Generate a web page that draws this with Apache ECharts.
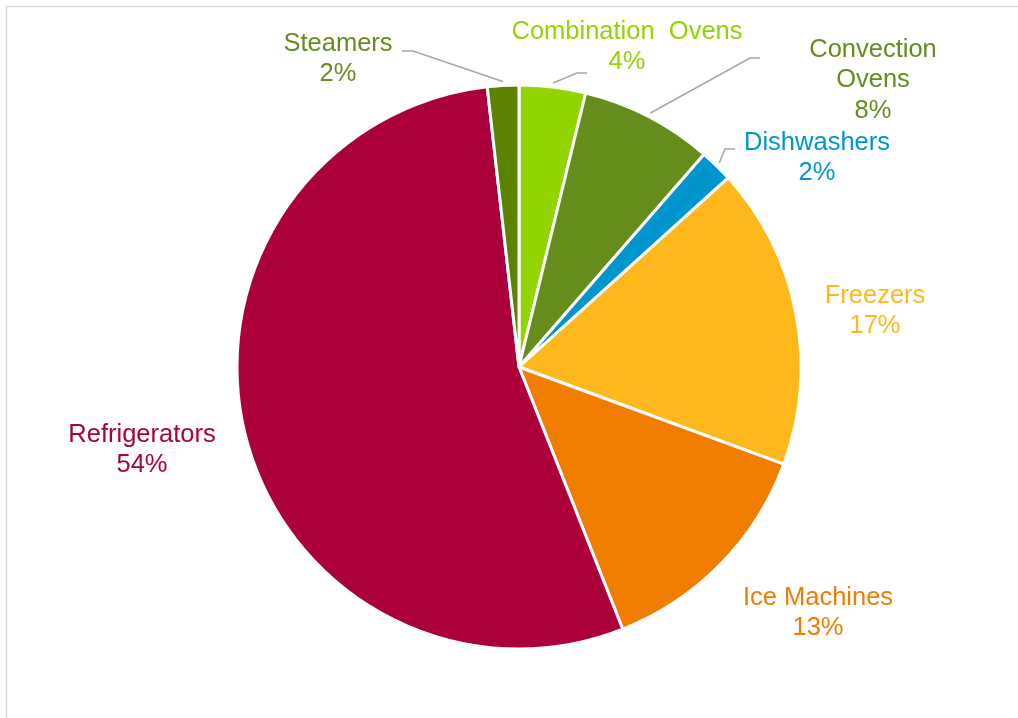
<!DOCTYPE html>
<html>
<head>
<meta charset="utf-8">
<script src="https://cdn.jsdelivr.net/npm/echarts@6/dist/echarts.min.js"></script>
<style>
html,body{margin:0;padding:0;background:#fff;}
#chart{width:1018px;height:718px;}
</style>
</head>
<body>
<div id="chart"></div>
<script>
const categories = ['Combination  Ovens', 'Convection\nOvens', 'Dishwashers', 'Freezers', 'Ice Machines', 'Refrigerators', 'Steamers'];
const values = [3.8, 7.6, 1.9, 17.3, 13.4, 54.2, 1.8];
const sliceColors = ['#92D400', '#658D1B', '#0095CF', '#FFB81C', '#F07D00', '#AB003C', '#5B8200'];
const labelColors = ['#92D400', '#658D1B', '#0095CF', '#FFB81C', '#F07D00', '#AB003C', '#658D1B'];
const showLine = [true, true, true, false, false, false, true];
// layout only: label block centres and leader-line elbow/end points
const labelPos = [[627, 47], [873, 80], [817, 158], [875, 311], [818, 613], [142, 450], [338, 59]];
const leaderBends = [[[577, 73], [587, 73]], [[750, 58], [760, 58]], [[725, 149], [735, 149]], null, null, null, [[413, 51], [402, 51]]];

const CX = 519, CY = 367;
const chart = echarts.init(document.getElementById('chart'));
const data = categories.map((c, i) => ({
  name: c,
  value: values[i],
  itemStyle: { color: sliceColors[i] },
  label: { color: labelColors[i] },
  labelLine: { show: showLine[i] }
}));
chart.setOption({
  animation: false,
  graphic: [{
    type: 'rect',
    shape: { x: 6.5, y: 6.5, width: 1100, height: 800 },
    style: { fill: 'none', stroke: '#D9D9D9', lineWidth: 1.5 },
    silent: true
  }],
  series: [{
    type: 'pie',
    center: [CX, CY],
    radius: [0, 282],
    startAngle: 90,
    clockwise: true,
    data: data,
    itemStyle: { borderColor: '#ffffff', borderWidth: 3 },
    label: {
      show: true,
      position: 'outside',
      fontFamily: 'Liberation Sans, Arial, sans-serif',
      fontSize: 25.5,
      lineHeight: 30.5,
      align: 'center',
      formatter: p => p.name + '\n' + Math.round(p.percent) + '%'
    },
    labelLine: {
      show: true,
      length: 15,
      length2: 10,
      lineStyle: { color: '#A6A6A6', width: 1.5 }
    },
    labelLayout: function (params) {
      const i = params.dataIndex;
      const pos = labelPos[i];
      const out = { x: pos[0], y: pos[1], align: 'center', verticalAlign: 'middle' };
      const bends = leaderBends[i];
      if (bends && params.labelLinePoints) {
        const p0 = params.labelLinePoints[0];
        const dx = p0[0] - CX, dy = p0[1] - CY;
        const d = Math.sqrt(dx * dx + dy * dy) || 1;
        const start = [p0[0] + dx / d * 4, p0[1] + dy / d * 4];
        out.labelLinePoints = [start, bends[0], bends[1]];
      }
      return out;
    }
  }]
});
</script>
</body>
</html>
